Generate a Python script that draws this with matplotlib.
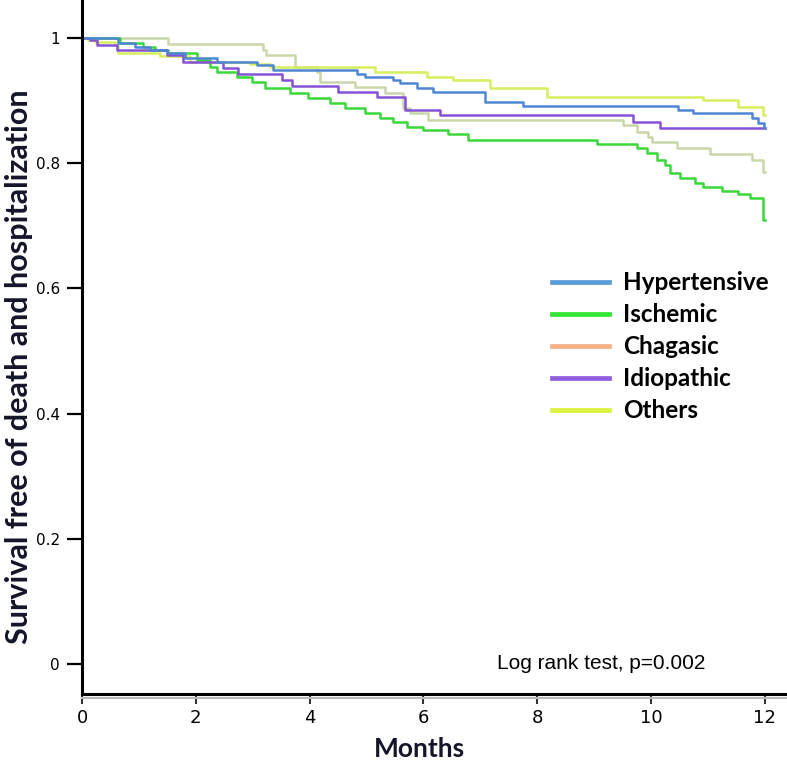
import matplotlib
matplotlib.use('Agg')
import matplotlib.pyplot as plt
from matplotlib.lines import Line2D

# === Kaplan-Meier step data (months, survival) ===
groups = ['Hypertensive', 'Ischemic', 'Chagasic', 'Idiopathic', 'Others']

hyp_t = [0, 0.63, 0.93, 1.20, 1.49, 1.81, 2.37, 3.08, 3.36, 4.83, 4.97, 5.47, 5.59,
         5.89, 6.17, 7.08, 7.75, 10.47, 10.74, 11.78, 11.88, 11.98, 12.0]
hyp_s = [1.0, 0.992, 0.986, 0.981, 0.976, 0.968, 0.962, 0.957, 0.949, 0.942, 0.938, 0.933, 0.928,
         0.921, 0.914, 0.898, 0.891, 0.885, 0.880, 0.872, 0.865, 0.856, 0.856]

isc_t = [0, 0.67, 1.07, 1.28, 1.51, 2.02, 2.25, 2.37, 2.72, 2.99, 3.22, 3.66, 3.97, 4.36,
         4.62, 4.97, 5.24, 5.47, 5.71, 5.99, 6.43, 6.78, 9.05, 9.75, 9.93, 10.11, 10.25,
         10.33, 10.51, 10.77, 10.91, 11.25, 11.53, 11.74, 11.97, 12.0]
isc_s = [1.0, 0.992, 0.986, 0.981, 0.976, 0.965, 0.954, 0.946, 0.938, 0.930, 0.920, 0.912, 0.904, 0.896,
         0.888, 0.880, 0.872, 0.866, 0.858, 0.853, 0.847, 0.838, 0.831, 0.824, 0.816, 0.806, 0.797,
         0.784, 0.776, 0.768, 0.762, 0.756, 0.751, 0.744, 0.709, 0.709]

cha_t = [0, 1.51, 3.18, 3.23, 3.74, 4.13, 4.18, 4.80, 5.33, 5.64, 5.76, 6.08, 9.51, 9.75,
         9.95, 10.02, 10.46, 11.04, 11.78, 11.97, 12.0]
cha_s = [1.0, 0.990, 0.981, 0.973, 0.954, 0.946, 0.930, 0.922, 0.912, 0.888, 0.880, 0.870, 0.861, 0.850,
         0.842, 0.834, 0.825, 0.815, 0.805, 0.786, 0.786]

idi_t = [0, 0.14, 0.26, 0.62, 1.49, 1.78, 2.48, 2.74, 3.51, 3.69, 4.50, 5.18, 5.68, 6.29,
         9.68, 10.16, 12.0]
idi_s = [1.0, 0.997, 0.989, 0.981, 0.973, 0.962, 0.952, 0.942, 0.933, 0.923, 0.914, 0.906, 0.886, 0.877,
         0.866, 0.856, 0.856]

oth_t = [0, 0.105, 0.23, 0.58, 0.63, 1.37, 1.90, 2.95, 3.30, 5.15, 6.06, 6.52, 7.17, 8.17,
         10.91, 11.53, 11.97, 12.0]
oth_s = [1.0, 0.997, 0.994, 0.989, 0.976, 0.971, 0.962, 0.958, 0.954, 0.946, 0.938, 0.933, 0.920, 0.906,
         0.901, 0.890, 0.877, 0.877]

x_ticks = [0, 2, 4, 6, 8, 10, 12]
y_ticks = [0, 0.2, 0.4, 0.6, 0.8, 1.0]
y_ticklabels = ['0', '0.2', '0.4', '0.6', '0.8', '1']

# curve colours in the plot, and the (slightly different) legend swatches
line_colors = {'Hypertensive': '#4f86d4', 'Ischemic': '#3bd83b', 'Chagasic': '#c9d7ab',
               'Idiopathic': '#8552d6', 'Others': '#d6ef5e'}
legend_colors = {'Hypertensive': '#5b9bd5', 'Ischemic': '#33e633', 'Chagasic': '#f4b183',
                 'Idiopathic': '#8f5fdf', 'Others': '#d9f23f'}

if __name__ == '__main__':
    f = plt.figure(figsize=(7.87, 7.68), dpi=100)
    ax = f.add_axes([82 / 787, 1 - 694 / 768, 1 - 82 / 787, 694 / 768])

    series = {'Hypertensive': (hyp_t, hyp_s), 'Ischemic': (isc_t, isc_s), 'Chagasic': (cha_t, cha_s),
              'Idiopathic': (idi_t, idi_s), 'Others': (oth_t, oth_s)}
    # draw order: pale ones first
    for g in ['Chagasic', 'Others', 'Ischemic', 'Idiopathic', 'Hypertensive']:
        t, s = series[g]
        ax.step(t, s, where='post', color=line_colors[g], lw=1.8)

    ax.set_xlim(0, 12.39)
    ax.set_ylim(-0.048, 1.061)

    for side in ['top', 'right']:
        ax.spines[side].set_visible(False)
    ax.spines['left'].set_linewidth(2.2)
    ax.spines['bottom'].set_linewidth(2.2)
    # faint grey shadow line under the x axis
    ax.plot([0, 1], [-0.006, -0.006], transform=ax.transAxes, color='#b8b8b8', lw=1.5, clip_on=False)

    ax.set_yticks(y_ticks)
    ax.set_yticklabels(y_ticklabels, fontsize=11, family='DejaVu Sans')
    ax.tick_params(axis='y', length=11, width=1.6, pad=5)
    ax.set_xticks(x_ticks)
    ax.set_xticklabels([str(v) for v in x_ticks], fontsize=13,
                       family=['Liberation Sans Narrow', 'DejaVu Sans'])
    ax.tick_params(axis='x', length=7, width=1.5, pad=4, color='#333333')

    ax.set_ylabel('Survival free of death and hospitalization', fontsize=22, fontweight='bold',
                  family='Lato', color='#15152a')
    ax.yaxis.set_label_coords(-0.069, 0.471)
    ax.set_xlabel('Months', fontsize=19, fontweight='bold', family='Lato', color='#15152a')
    ax.xaxis.set_label_coords(0.479, -0.062)

    handles = [Line2D([], [], color=legend_colors[g], lw=3.4) for g in groups]
    ax.legend(handles, groups, loc='upper left', bbox_to_anchor=(0.666, 0.609), frameon=False,
              prop={'family': 'Lato', 'weight': 'bold', 'size': 17.5}, handlelength=2.35,
              handletextpad=0.58, labelspacing=0.37, borderpad=0, borderaxespad=0)

    ax.text(9.12, 0.0, 'Log rank test, p=0.002', ha='center', va='center', fontsize=15,
            family='Liberation Sans')

    f.savefig('out.png', dpi=100)
